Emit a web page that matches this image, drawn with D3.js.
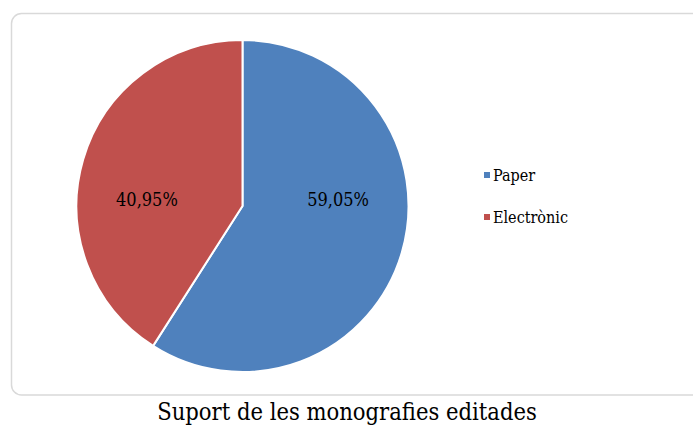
<!DOCTYPE html>
<html>
<head>
<meta charset="utf-8">
<script src="https://cdn.jsdelivr.net/npm/d3@7"></script>
<style>
body { margin: 0; background: #fff; }
</style>
</head>
<body>
<script>
var categories = ["Paper", "Electrònic"];
var values = [59.05, 40.95];
var labels = ["59,05%", "40,95%"];
var colors = ["#4F81BD", "#C0504D"];
var title = "Suport de les monografies editades";

var width = 693, height = 428;
var cx = 242.5, cy = 206, radius = 166;
var font = "'DejaVu Serif Condensed', 'DejaVu Serif', serif";

svg = d3.select("body").append("svg")
    .attr("width", width)
    .attr("height", height)

// chart border
svg.append("rect")
    .attr("x", 11.5)
    .attr("y", 13.5)
    .attr("width", 690)
    .attr("height", 381.5)
    .attr("rx", 10)
    .attr("fill", "#fff")
    .attr("stroke", "#d9d9d9")
    .attr("stroke-width", 1.5)

var pie = d3.pie().sort(null).value(function(d){ return d; });
var arcs = pie(values);
var arc = d3.arc().innerRadius(0).outerRadius(radius);
var labelArc = d3.arc().innerRadius(radius * 0.6).outerRadius(radius * 0.6);

var g = svg.append("g").attr("transform", "translate(" + cx + "," + cy + ")")

g.selectAll("path")
    .data(arcs)
    .enter().append("path")
    .attr("d", arc)
    .attr("fill", function(d, i){ return colors[i]; })
    .attr("stroke", "#fff")
    .attr("stroke-width", 2)

// labels sit level with the centre, x taken from the centroid
g.selectAll("text")
    .data(arcs)
    .enter().append("text")
    .attr("x", function(d){ return labelArc.centroid(d)[0]; })
    .attr("y", 0)
    .attr("text-anchor", "middle")
    .attr("font-family", font)
    .attr("font-size", 18)
    .attr("fill", "#000")
    .text(function(d, i){ return labels[i]; })

// legend
var legend = svg.append("g").attr("transform", "translate(484,175)")
var legY = d3.scaleBand().domain(categories).range([0, 84]).paddingInner(0);
categories.forEach(function(c, i){
    legend.append("rect")
        .attr("x", 0)
        .attr("y", legY(c) - 3)
        .attr("width", 6)
        .attr("height", 6)
        .attr("fill", colors[i])
    legend.append("text")
        .attr("x", 9)
        .attr("y", legY(c) + 5.5)
        .attr("font-family", font)
        .attr("font-size", 16)
        .text(c)
});

svg.append("text")
    .attr("x", 347)
    .attr("y", 420)
    .attr("text-anchor", "middle")
    .attr("font-family", font)
    .attr("font-size", 23.5)
    .text(title)
</script>
</body>
</html>
